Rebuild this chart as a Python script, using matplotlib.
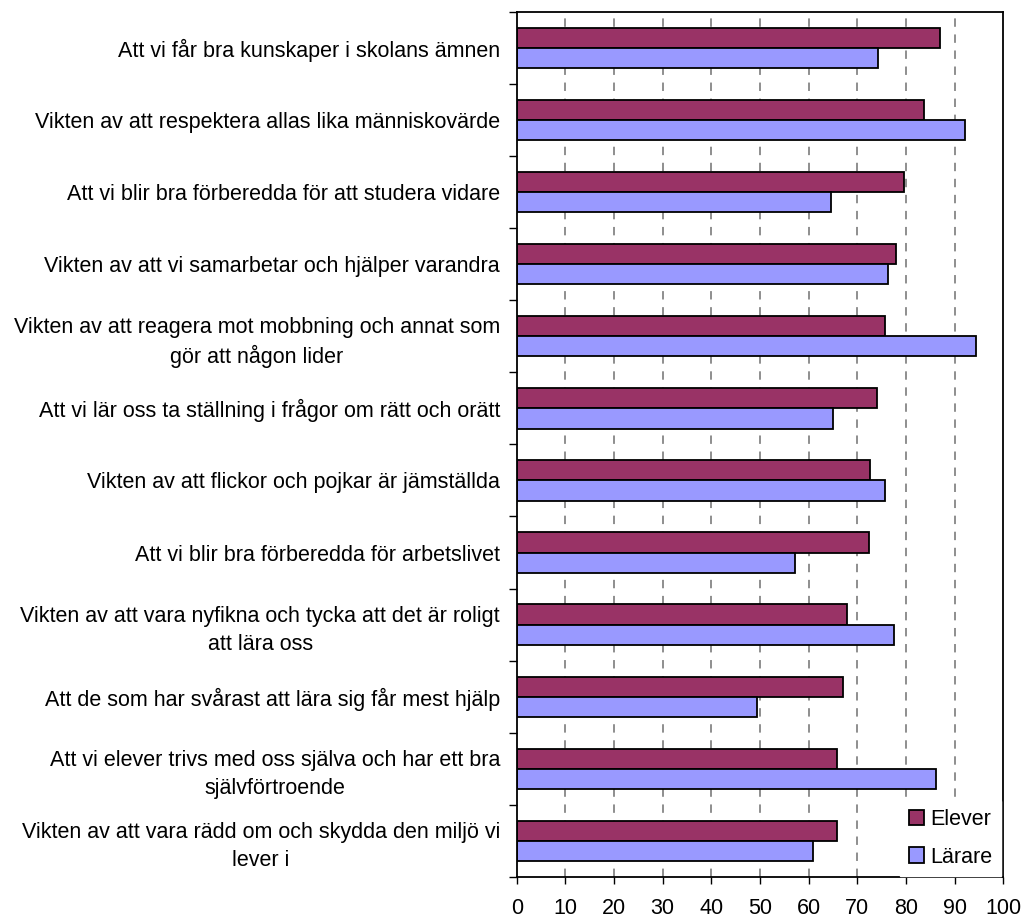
import numpy as np
import matplotlib.pyplot as plt
import matplotlib.transforms as mtransforms
from matplotlib.ticker import MultipleLocator

plt.rcParams['font.family'] = ['Liberation Sans', 'DejaVu Sans']

categories = [
    "Att vi får bra kunskaper i skolans ämnen",
    "Vikten av att respektera allas lika människovärde",
    "Att vi blir bra förberedda för att studera vidare",
    "Vikten av att vi samarbetar och hjälper varandra",
    "Vikten av att reagera mot mobbning och annat som\ngör att någon lider",
    "Att vi lär oss ta ställning i frågor om rätt och orätt",
    "Vikten av att flickor och pojkar är jämställda",
    "Att vi blir bra förberedda för arbetslivet",
    "Vikten av att vara nyfikna och tycka att det är roligt\natt lära oss",
    "Att de som har svårast att lära sig får mest hjälp",
    "Att vi elever trivs med oss själva och har ett bra\nsjälvförtroende",
    "Vikten av att vara rädd om och skydda den miljö vi\nlever i",
]
elever = [87.0, 83.7, 79.6, 77.9, 75.6, 74.0, 72.7, 72.3, 67.8, 67.0, 65.8, 65.8]
larare = [74.3, 92.2, 64.5, 76.4, 94.3, 64.9, 75.6, 57.1, 77.6, 49.4, 86.2, 60.8]
x_ticks = [0, 10, 20, 30, 40, 50, 60, 70, 80, 90, 100]

fs = 15.5
fig = plt.figure(figsize=(10.26, 9.17), dpi=100)
ax = fig.add_axes([0.5036, 0.0436, 0.4743, 0.9436])

y = np.arange(len(categories))
h = 0.28
ax.barh(y - h / 2, elever, height=h, color='#993366', edgecolor='black', linewidth=1.3, label='Elever', zorder=3)
ax.barh(y + h / 2, larare, height=h, color='#9999FF', edgecolor='black', linewidth=1.3, label='Lärare', zorder=3)

ax.set_xlim(0, 100)
ax.set_ylim(len(categories) - 0.5, -0.5)
ax.set_xticks(x_ticks)
ax.set_xticklabels([str(v) for v in x_ticks], fontsize=fs)

ax.set_yticks(y)
ax.set_yticklabels(categories, fontsize=fs)
shift = mtransforms.ScaledTranslation(0, 4 / 100, fig.dpi_scale_trans)
for t in ax.get_yticklabels():
    t.set_multialignment('center')
    t.set_linespacing(1.4)
    t.set_transform(t.get_transform() + shift)
ax.yaxis.set_minor_locator(MultipleLocator(1, offset=0.5))
ax.tick_params(axis='y', which='major', length=0, pad=12)
ax.tick_params(axis='y', which='minor', length=6, width=1, direction='out')
ax.tick_params(axis='x', length=5, width=1, direction='out', pad=10)

for v in x_ticks[1:-1]:
    ax.axvline(v, color='#707070', linewidth=1.1, linestyle=(0, (5.5, 5)), zorder=1)

for s in ax.spines.values():
    s.set_linewidth(1.3)
    s.set_zorder(4)

leg = ax.legend(loc='lower right', bbox_to_anchor=(0.995, 0.001), frameon=True, fontsize=fs,
                handlelength=0.7, handleheight=0.7, handletextpad=0.3,
                labelspacing=0.75, borderpad=0.4, fancybox=False, borderaxespad=0.0)
leg.get_frame().set_edgecolor('white')
leg.get_frame().set_facecolor('white')
leg.get_frame().set_alpha(1)
leg.set_zorder(5)

fig.savefig('out.png', dpi=100)
